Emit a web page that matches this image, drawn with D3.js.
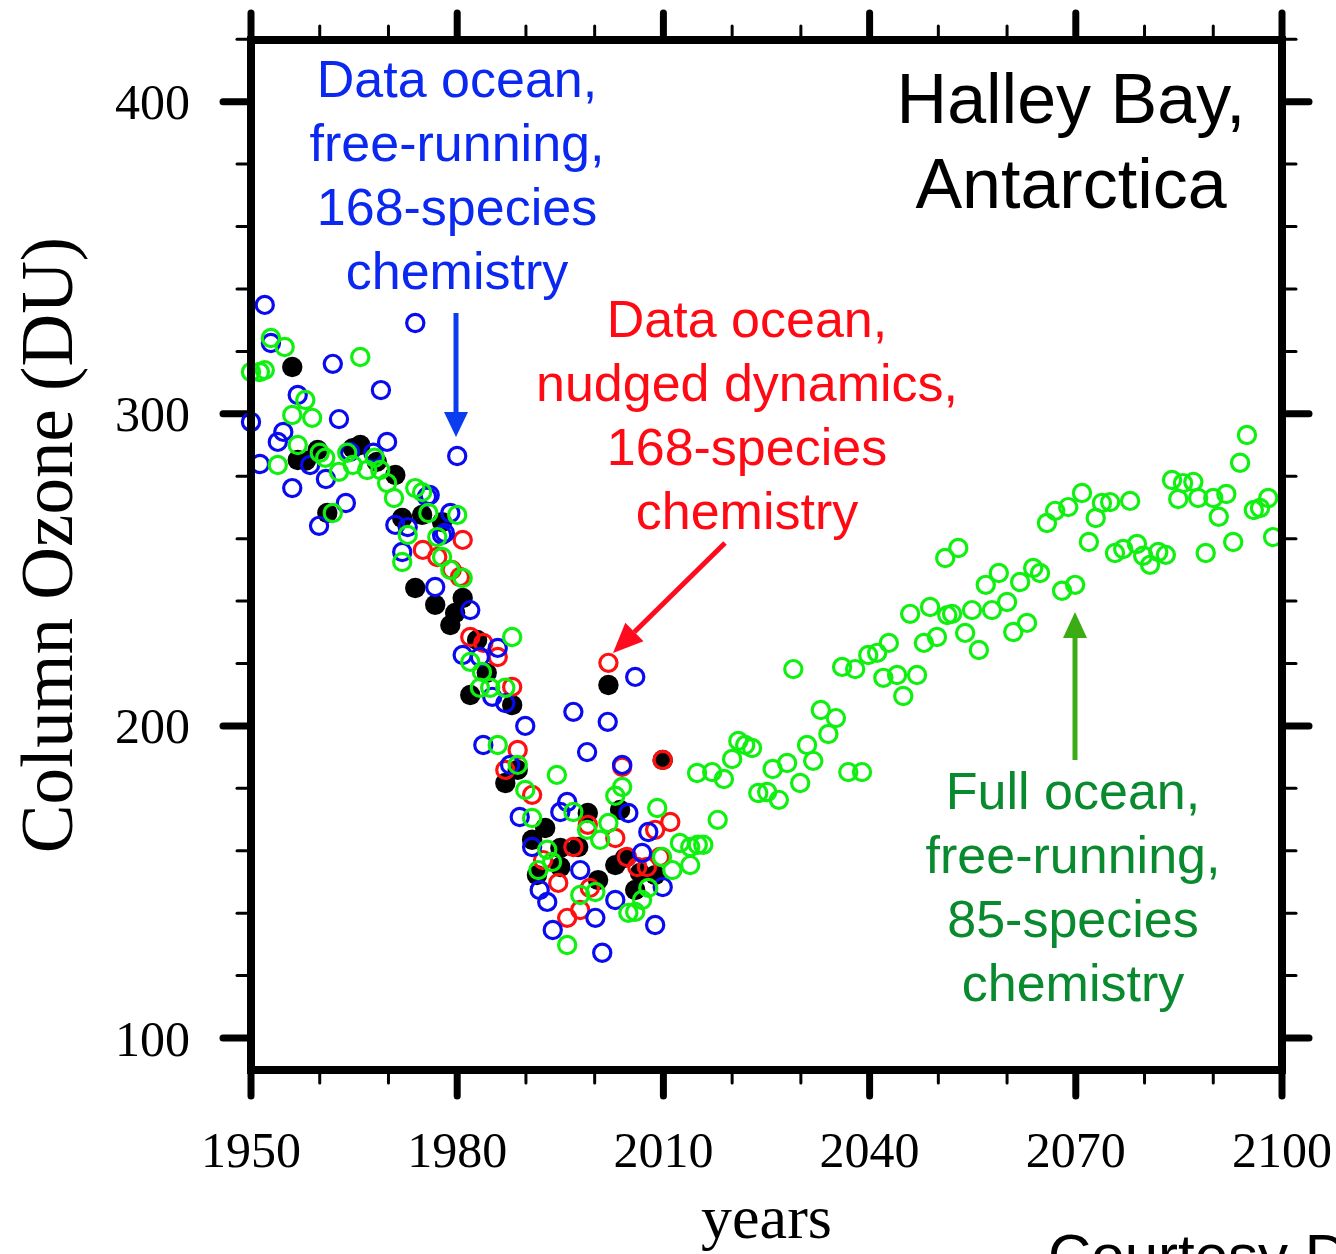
<!DOCTYPE html>
<html><head><meta charset="utf-8">
<script src="https://cdn.jsdelivr.net/npm/d3@7"></script>
<style>html,body{margin:0;padding:0;background:#fff;overflow:hidden}</style>
</head><body>
<script>
// ---- DATA: [year, column ozone (DU)] ----
const observed = [[1956.0,315],[1956.8,285.2],[1958,285],[1959.7,288.4],[1961.1,268.2],[1964.8,289],[1965.9,290],[1968.3,284.6],[1971.0,280.4],[1972.0,266.6],[1974.9,267.6],[1977.8,265.3],[1973.9,244.2],[1976.8,238.8],[1980.8,241],[1979.7,236.2],[1979.0,232.3],[1982.9,227.5],[1984.3,217],[1981.9,209.9],[1988.0,206.7],[1987.0,181.7],[1988.8,185.9],[1990.9,163.5],[1992.8,167.3],[1995.0,160.9],[1995.0,154.8],[1991.6,152.2],[1997.6,161.2],[1999.0,172.1],[2000.5,150.6],[2002.0,213.1],[2003.0,155.4],[2003.7,173.1],[2006.6,152.9],[2005.9,147.4],[2009.9,189.1],[2004.4,157.7],[2008.8,152.2]];

const freeRunning168 = [[1952.0,334.9],[1952.9,322.7],[1961.9,316.0],[1973.9,329.1],[1968.9,307.6],[1956.8,306.0],[1950.0,297.4],[1962.8,298.3],[1954.7,294.2],[1953.9,291.0],[1969.8,291.0],[1951.3,283.9],[1958.6,283.6],[1964.4,287.8],[1967.8,287.5],[1960.9,279.1],[1956.0,276.2],[1980.0,286.5],[1963.8,271.4],[1959.9,264.1],[1971.0,264.4],[1975.6,273.4],[1979.0,268.2],[1977.8,261.2],[1972.0,255.7],[1976.0,274.0],[1972.8,263.7],[1978.2,261.8],[1976.8,244.5],[1981.9,237.1],[1980.8,222.7],[1985.9,225.0],[1983.3,222.1],[1985.1,209.3],[1987.0,207.3],[1989.9,200.0],[1983.8,193.9],[1987.7,187.5],[1996.9,204.5],[2001.9,201.3],[2005.9,215.7],[1998.9,191.6],[2004.0,187.5],[1996.0,175.6],[1995.0,172.4],[2004.9,172.1],[1989.1,170.8],[1990.9,161.2],[2007.8,166.0],[1997.9,153.8],[2009.9,148.4],[1992.0,147.4],[1993.1,143.6],[2003.0,144.2],[2000.1,138.5],[1993.9,134.6],[2001.1,127.3],[2008.8,136.2],[2006.9,159.3]];

const nudged168 = [[1980.8,259.6],[1975.0,256.4],[1977.1,254.1],[1979.2,250.0],[1980.4,247.7],[1981.9,228.5],[1983.8,226.6],[1985.9,222.1],[1988.0,212.5],[1988.8,192.3],[1987.0,185.9],[1990.9,177.9],[2002.0,220.2],[2004.0,186.9],[2009.9,189.1],[2011.0,169.2],[1999.0,168.3],[2003.0,164.1],[2008.8,166.7],[1996.9,161.2],[2004.7,158.0],[2006.2,154.8],[2007.6,154.8],[1992.5,157.0],[1994.7,149.7],[1997.9,141.0],[1996.0,138.5],[1999.3,148.1],[2009.5,158.0]];

const fullOcean85 = [[1950.0,313.4],[1951.3,313.4],[1952.0,314.0],[1952.9,324.3],[1954.9,321.4],[1965.9,318.2],[1957.9,304.4],[1956.0,299.6],[1958.9,298.7],[1956.8,290.0],[1953.9,283.6],[1960.0,287.5],[1960.8,285.9],[1962.8,281.4],[1964.0,287.5],[1964.8,283.6],[1966.9,282.0],[1968.0,285.9],[1968.8,282.0],[1969.8,277.8],[1970.8,273.0],[1961.9,268.2],[1973.9,276.2],[1974.9,274.9],[1975.8,268.2],[1980.0,267.6],[1972.8,261.2],[1977.1,260.5],[1972.0,252.5],[1977.8,254.1],[1979.0,250.0],[1980.8,247.4],[1988.0,228.5],[1981.9,220.5],[1983.6,217.3],[1983.3,212.2],[1984.8,212.2],[1987.0,212.2],[1985.9,193.9],[1988.8,187.5],[1994.5,184.3],[1989.9,179.5],[2004.0,180.4],[2003.0,177.6],[2009.1,173.7],[1996.9,172.4],[1990.9,170.5],[2002.0,168.9],[1998.9,166.7],[2000.8,163.5],[1993.1,160.3],[1993.8,156.4],[1991.8,153.8],[2009.8,158.0],[2012.4,162.5],[2013.9,161.2],[2015.0,161.9],[2013.9,155.4],[2011.3,153.8],[2007.8,148.1],[1997.9,145.8],[2000.1,146.8],[2006.9,144.2],[2004.9,140.1],[2005.9,140.4],[1996.0,129.8],[2015.8,161.9],[2017.9,169.9],[2014.9,184.9],[2017.1,185.2],[2018.8,183.0],[2020.0,189.4],[2020.9,195.2],[2021.9,193.9],[2022.9,192.9],[2023.8,178.5],[2025.1,178.8],[2026.8,176.3],[2025.9,186.2],[2028.0,188.1],[2029.9,181.7],[2028.9,218.2],[2030.9,193.9],[2031.8,188.8],[2032.9,205.1],[2035.1,202.5],[2034.0,197.4],[2036.0,218.9],[2037.9,218.2],[2036.9,185.2],[2038.9,185.2],[2039.8,222.7],[2041.1,223.4],[2042.8,226.6],[2042.0,215.4],[2044.0,216.3],[2046.9,216.3],[2044.9,209.6],[2045.9,235.9],[2048.8,238.1],[2051.3,235.5],[2047.9,226.6],[2049.8,228.5],[2052.9,257.0],[2051.0,253.8],[2052.0,235.9],[2053.9,229.8],[2054.9,237.1],[2055.9,224.3],[2057.8,237.1],[2056.9,245.2],[2058.8,249.0],[2060.0,239.7],[2061.9,246.1],[2060.9,230.1],[2062.9,233.0],[2063.8,250.6],[2064.8,249.0],[2065.8,265.0],[2067.0,268.9],[2068.9,270.1],[2070.9,274.6],[2068.0,243.3],[2069.9,245.2],[2072.9,266.6],[2071.9,258.9],[2073.8,271.4],[2075.0,271.7],[2077.9,272.1],[2075.7,255.4],[2076.9,256.7],[2078.9,258.3],[2079.8,254.5],[2080.8,251.6],[2082.0,255.7],[2083.1,254.8],[2084.0,278.8],[2085.6,277.8],[2087.1,278.2],[2084.9,272.7],[2087.8,273.0],[2090.0,273.0],[2091.9,274.3],[2090.8,267.0],[2088.9,255.4],[2092.9,258.9],[2093.9,284.3],[2094.9,293.2],[2095.9,269.2],[2096.8,269.8],[2098.0,273.0],[2098.7,260.5]];

const xMajorTicks = [1950, 1980, 2010, 2040, 2070, 2100];
const xMinorTicks = d3.range(1950, 2101, 10);
const yMajorTicks = [100, 200, 300, 400];
const yMinorTicks = d3.range(100, 421, 20);

const blueLabel = ["Data ocean,", "free-running,", "168-species", "chemistry"];
const redLabel = ["Data ocean,", "nudged dynamics,", "168-species", "chemistry"];
const greenLabel = ["Full ocean,", "free-running,", "85-species", "chemistry"];
const stationLabel = ["Halley Bay,", "Antarctica"];

// ---- LAYOUT ----
const W = 1336, H = 1254;
const L = 251, R = 1282, T = 40, B = 1070;
const x = d3.scaleLinear().domain([1950, 2100]).range([L, R]);
const y = d3.scaleLinear().domain([100, 400]).range([1038, 101.7]);

const svg = d3.select("body").append("svg").attr("width", W).attr("height", H);
const serif = "'Liberation Serif','Times New Roman',serif";
const sans = "'Liberation Sans',Arial,Helvetica,sans-serif";

// ticks
const tk = svg.append("g").attr("stroke", "#000").attr("stroke-linecap", "round");
xMinorTicks.filter(v => !xMajorTicks.includes(v)).forEach(v => {
  tk.append("line").attr("x1", x(v)).attr("x2", x(v)).attr("y1", B).attr("y2", B + 13).attr("stroke-width", 3);
  tk.append("line").attr("x1", x(v)).attr("x2", x(v)).attr("y1", T).attr("y2", T - 14).attr("stroke-width", 3);
});
xMajorTicks.forEach(v => {
  tk.append("line").attr("x1", x(v)).attr("x2", x(v)).attr("y1", B).attr("y2", B + 26).attr("stroke-width", 7);
  tk.append("line").attr("x1", x(v)).attr("x2", x(v)).attr("y1", T).attr("y2", T - 27).attr("stroke-width", 7);
});
yMinorTicks.filter(v => !yMajorTicks.includes(v)).forEach(v => {
  tk.append("line").attr("x1", L).attr("x2", L - 14).attr("y1", y(v)).attr("y2", y(v)).attr("stroke-width", 3);
  tk.append("line").attr("x1", R).attr("x2", R + 14).attr("y1", y(v)).attr("y2", y(v)).attr("stroke-width", 3);
});
yMajorTicks.forEach(v => {
  tk.append("line").attr("x1", L).attr("x2", L - 28).attr("y1", y(v)).attr("y2", y(v)).attr("stroke-width", 7);
  tk.append("line").attr("x1", R).attr("x2", R + 27).attr("y1", y(v)).attr("y2", y(v)).attr("stroke-width", 7);
});

// tick labels
svg.append("g").selectAll("text").data(xMajorTicks).join("text")
  .attr("x", d => x(d)).attr("y", 1167).attr("text-anchor", "middle")
  .attr("font-family", serif).attr("font-size", 50).text(d => d);
svg.append("g").selectAll("text").data(yMajorTicks).join("text")
  .attr("x", 190).attr("y", d => y(d) + 17.5).attr("text-anchor", "end")
  .attr("font-family", serif).attr("font-size", 50).text(d => d);

// axis titles
svg.append("text").attr("x", (L + R) / 2).attr("y", 1238).attr("text-anchor", "middle")
  .attr("font-family", serif).attr("font-size", 62).text("years");
svg.append("text").attr("transform", "translate(72,545) rotate(-90)").attr("text-anchor", "middle")
  .attr("font-family", serif).attr("font-size", 73).text("Column Ozone (DU)");
svg.append("text").attr("x", 1048).attr("y", 1276)
  .attr("font-family", sans).attr("font-size", 60).text("Courtesy D");

// data points
const plot = svg.append("g");
const r = 8.6;
plot.append("g").selectAll("circle").data(observed).join("circle")
  .attr("cx", d => x(d[0])).attr("cy", d => y(d[1])).attr("r", 10.2).attr("fill", "#000");
plot.append("g").selectAll("circle").data(nudged168).join("circle")
  .attr("cx", d => x(d[0])).attr("cy", d => y(d[1])).attr("r", r)
  .attr("fill", "none").attr("stroke", "#ff1010").attr("stroke-width", 3.2);
plot.append("g").selectAll("circle").data(freeRunning168).join("circle")
  .attr("cx", d => x(d[0])).attr("cy", d => y(d[1])).attr("r", r)
  .attr("fill", "none").attr("stroke", "#0a0af0").attr("stroke-width", 3.2);
plot.append("g").selectAll("circle").data(fullOcean85).join("circle")
  .attr("cx", d => x(d[0])).attr("cy", d => y(d[1])).attr("r", r)
  .attr("fill", "none").attr("stroke", "#10f010").attr("stroke-width", 3.2);

// frame
svg.append("rect").attr("x", L).attr("y", T).attr("width", R - L).attr("height", B - T)
  .attr("fill", "none").attr("stroke", "#000").attr("stroke-width", 8);

// annotations
function block(lines, cx, y0, dy, size, color) {
  const g = svg.append("g");
  lines.forEach((s, i) => g.append("text").attr("x", cx).attr("y", y0 + i * dy)
    .attr("text-anchor", "middle").attr("font-family", sans).attr("font-size", size)
    .attr("fill", color).text(s));
}
block(blueLabel, 457, 97, 64, 52, "#0a28f0");
block(redLabel, 747, 337, 64, 52, "#ff0a14");
block(greenLabel, 1073, 809, 64, 52, "#0a8a2e");
block(stationLabel, 1071, 123, 85, 70, "#000");

function arrow(x1, y1, x2, y2, color, hl, hw) {
  const a = Math.atan2(y2 - y1, x2 - x1);
  const bx = x2 - hl * Math.cos(a), by = y2 - hl * Math.sin(a);
  svg.append("line").attr("x1", x1).attr("y1", y1).attr("x2", bx).attr("y2", by)
    .attr("stroke", color).attr("stroke-width", 5);
  const px = -Math.sin(a) * hw, py = Math.cos(a) * hw;
  svg.append("path").attr("d", `M${x2},${y2}L${bx + px},${by + py}L${bx - px},${by - py}Z`).attr("fill", color);
}
arrow(456, 313, 456, 437, "#0a3cf0", 25, 12);
arrow(725, 543, 613, 653, "#ff0a1e", 30, 13);
arrow(1075, 760, 1075, 612, "#3cac14", 26, 12);
</script>
</body></html>
